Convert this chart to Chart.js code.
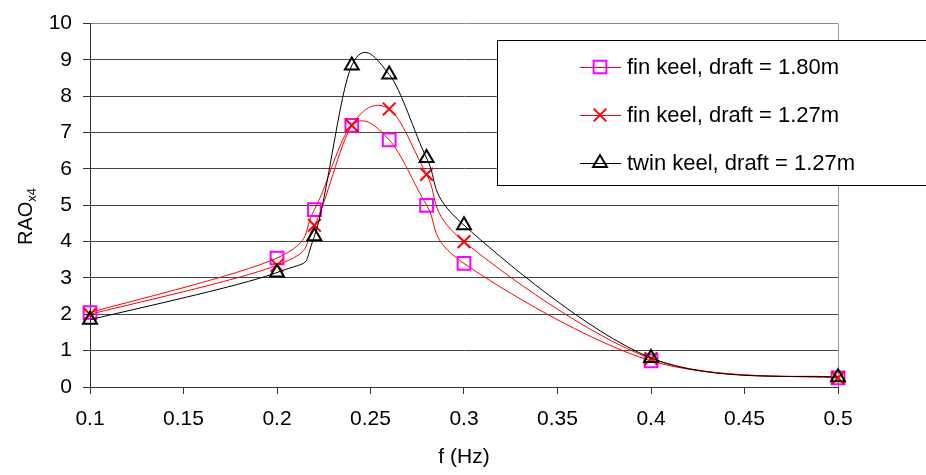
<!DOCTYPE html>
<html>
<head>
<meta charset="utf-8">
<script src="https://cdn.jsdelivr.net/npm/chart.js@4.4.1/dist/chart.umd.min.js"></script>
<style>
  body { margin: 0; background: #fff; }
</style>
</head>
<body>
<canvas id="myChart" width="926" height="475"></canvas>
<script>
// values
var freq = [0.1, 0.2, 0.22, 0.24, 0.26, 0.28, 0.3, 0.4, 0.5];
var finKeel180 = [2.05, 3.55, 4.88, 7.2, 6.8, 5.0, 3.4, 0.72, 0.25];
var finKeel127 = [2.0, 3.35, 4.45, 7.2, 7.65, 5.85, 4.0, 0.78, 0.25];
var twinKeel127 = [1.85, 3.15, 4.15, 8.85, 8.6, 6.3, 4.45, 0.8, 0.27];
var seriesNames = ['fin keel, draft = 1.80m', 'fin keel, draft = 1.27m', 'twin keel, draft = 1.27m'];
var yTicks = [0, 1, 2, 3, 4, 5, 6, 7, 8, 9, 10];

var FONT = '"Liberation Sans", Arial, sans-serif';

function toPoints(ys) {
    return freq.map(function (f, i) { return { x: f, y: ys[i] }; });
}

// draws a marker like the chart does (used for the legend box)
function marker(ctx, style, x, y, r, color) {
    ctx.save();
    ctx.strokeStyle = color;
    ctx.lineWidth = 2;
    ctx.beginPath();
    if (style === 'rect') {
        var s = r * Math.SQRT1_2;
        ctx.rect(x - s, y - s, 2 * s, 2 * s);
    } else if (style === 'crossRot') {
        var o = r * Math.SQRT1_2;
        ctx.moveTo(x - o, y - o); ctx.lineTo(x + o, y + o);
        ctx.moveTo(x - o, y + o); ctx.lineTo(x + o, y - o);
    } else if (style === 'triangle') {
        ctx.moveTo(x, y - r);
        ctx.lineTo(x + 0.866 * r, y + 0.5 * r);
        ctx.lineTo(x - 0.866 * r, y + 0.5 * r);
        ctx.closePath();
    }
    ctx.stroke();
    ctx.restore();
}

// spreadsheet style smoothing: control arms = (next - prev) / 6
var smoothLines = {
    id: 'smoothLines',
    beforeDatasetDraw: function (chart, args) {
        var pts = args.meta.data;
        var n = pts.length;
        for (var i = 0; i < n; i++) {
            var p = pts[i];
            var prev = pts[Math.max(i - 1, 0)];
            var next = pts[Math.min(i + 1, n - 1)];
            var dx = (next.x - prev.x) / 6;
            var dy = (next.y - prev.y) / 6;
            p.cp1x = p.x - dx; p.cp1y = p.y - dy;
            p.cp2x = p.x + dx; p.cp2y = p.y + dy;
        }
        args.meta.dataset._pointsUpdated = true;
        args.meta.dataset._path = undefined;
    }
};

var legendBox = {
    id: 'legendBox',
    afterDraw: function (chart) {
        var ctx = chart.ctx;
        ctx.save();
        ctx.fillStyle = '#fff';
        ctx.fillRect(497, 40, 440, 145);
        ctx.strokeStyle = '#000';
        ctx.lineWidth = 1;
        ctx.strokeRect(497.5, 40.5, 440, 145);
        var rows = [67, 115, 163];
        chart.data.datasets.forEach(function (ds, i) {
            var y = rows[i];
            ctx.strokeStyle = ds.borderColor;
            ctx.lineWidth = 1;
            ctx.beginPath();
            ctx.moveTo(580, y + 0.5);
            ctx.lineTo(621, y + 0.5);
            ctx.stroke();
            marker(ctx, ds.pointStyle, 600, y, ds.pointRadius, ds.pointBorderColor);
            ctx.fillStyle = '#000';
            ctx.font = '22px ' + FONT;
            ctx.textBaseline = 'middle';
            ctx.textAlign = 'left';
            ctx.fillText(ds.label, 627, y + 1);
        });
        ctx.restore();
    }
};

// y axis title with subscript: RAO x4
var yTitle = {
    id: 'yTitle',
    afterDraw: function (chart) {
        var ctx = chart.ctx;
        ctx.save();
        ctx.translate(32, 245);
        ctx.rotate(-Math.PI / 2);
        ctx.fillStyle = '#000';
        ctx.textBaseline = 'alphabetic';
        ctx.textAlign = 'left';
        ctx.font = '20px ' + FONT;
        ctx.fillText('RAO', 0, 0);
        var w = ctx.measureText('RAO').width;
        ctx.font = '13px ' + FONT;
        ctx.fillText('x4', w, 4);
        ctx.restore();
    }
};

var ctx = document.getElementById('myChart').getContext('2d');
var chart = new Chart(ctx, {
    type: 'line',
    data: {
        datasets: [{
            label: seriesNames[0],
            data: toPoints(finKeel180),
            borderColor: 'rgb(255, 0, 0)',
            pointBorderColor: 'rgb(255, 0, 255)',
            pointBackgroundColor: 'transparent',
            pointStyle: 'rect',
            pointRadius: 9,
            pointBorderWidth: 2,
            borderWidth: 1,
            order: 2
        }, {
            label: seriesNames[1],
            data: toPoints(finKeel127),
            borderColor: 'rgb(255, 0, 0)',
            pointBorderColor: 'rgb(255, 0, 0)',
            pointBackgroundColor: 'transparent',
            pointStyle: 'crossRot',
            pointRadius: 9,
            pointBorderWidth: 2,
            borderWidth: 1,
            order: 1
        }, {
            label: seriesNames[2],
            data: toPoints(twinKeel127),
            borderColor: 'rgb(0, 0, 0)',
            pointBorderColor: 'rgb(0, 0, 0)',
            pointBackgroundColor: 'transparent',
            pointStyle: 'triangle',
            pointRadius: 8,
            pointBorderWidth: 2,
            borderWidth: 1,
            order: 0
        }]
    },
    options: {
        responsive: false,
        animation: false,
        clip: false,
        elements: {
            line: { tension: 0.4, fill: false, capBezierPoints: false }
        },
        layout: { padding: { top: 19, right: 88, bottom: 0, left: 0 } },
        plugins: {
            legend: { display: false },
            tooltip: { enabled: false }
        },
        scales: {
            x: {
                type: 'linear',
                min: 0.1,
                max: 0.5,
                afterFit: function (s) { s.height = 88; },
                ticks: {
                    stepSize: 0.05,
                    color: '#000',
                    font: { family: FONT, size: 21 },
                    padding: 13,
                    callback: function (v) { return +v.toFixed(2); }
                },
                grid: {
                    color: function (c) { return c.tick && Math.abs(c.tick.value - 0.5) < 1e-6 ? '#999' : 'rgba(0,0,0,0)'; },
                    tickColor: '#333',
                    tickLength: 7
                },
                border: { color: '#333', width: 1 },
                title: {
                    display: true,
                    text: 'f (Hz)',
                    color: '#000',
                    font: { family: FONT, size: 21 },
                    padding: { top: 0, bottom: 5 }
                }
            },
            y: {
                min: 0,
                max: 10,
                afterFit: function (s) { s.width = 90; },
                afterBuildTicks: function (s) { s.ticks = yTicks.map(function (v) { return { value: v }; }); },
                ticks: {
                    color: '#000',
                    font: { family: FONT, size: 21 },
                    padding: 11
                },
                grid: {
                    color: function (c) { return c.tick && c.tick.value === 10 ? '#888' : '#444'; },
                    tickColor: '#333',
                    tickLength: 7
                },
                border: { color: '#333', width: 1 }
            }
        }
    },
    plugins: [smoothLines, yTitle, legendBox]
});
</script>
</body>
</html>
